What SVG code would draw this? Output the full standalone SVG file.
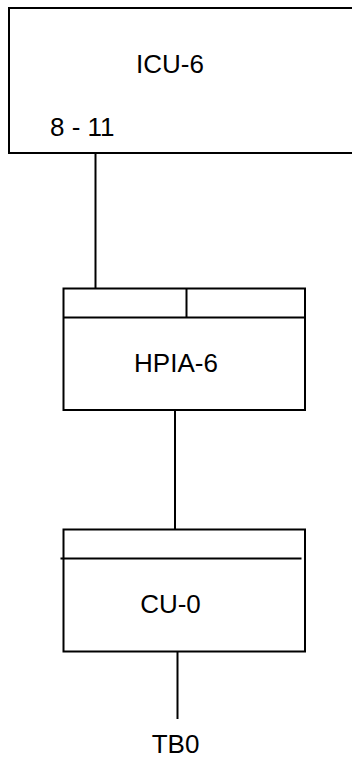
<svg xmlns="http://www.w3.org/2000/svg" width="352" height="760" viewBox="0 0 352 760">
<style>
.box{fill:#fff;stroke:#000;stroke-width:2}
.ln{stroke:#000;stroke-width:2;fill:none}
text{font-family:"Liberation Sans",Arial,sans-serif;font-size:26px;fill:#000}
</style>
<rect width="352" height="760" fill="#fff"/>
<g id="connectors">
<line class="ln" x1="95.5" y1="152" x2="95.5" y2="289"/>
<line class="ln" x1="175" y1="408" x2="175" y2="530"/>
<line class="ln" x1="177.5" y1="650" x2="177.5" y2="719"/>
</g>
<g id="icu6">
<rect class="box" x="9" y="8" width="360" height="145"/>
<text x="170" y="72.5" text-anchor="middle">ICU-6</text>
<text x="50" y="136">8 - 11</text>
</g>
<g id="hpia6">
<rect class="box" x="63.5" y="288.5" width="241.5" height="121.5"/>
<line class="ln" x1="63.5" y1="317.5" x2="305" y2="317.5"/>
<line class="ln" x1="186.5" y1="288.5" x2="186.5" y2="317.5"/>
<text x="176" y="371.5" text-anchor="middle">HPIA-6</text>
</g>
<g id="cu0">
<rect class="box" x="63.5" y="529.5" width="241.5" height="122"/>
<line class="ln" x1="60.5" y1="558.5" x2="301.5" y2="558.5"/>
<text x="170.5" y="612.5" text-anchor="middle">CU-0</text>
</g>
<g id="tb0">
<text x="175.5" y="752.5" text-anchor="middle">TB0</text>
</g>
</svg>
